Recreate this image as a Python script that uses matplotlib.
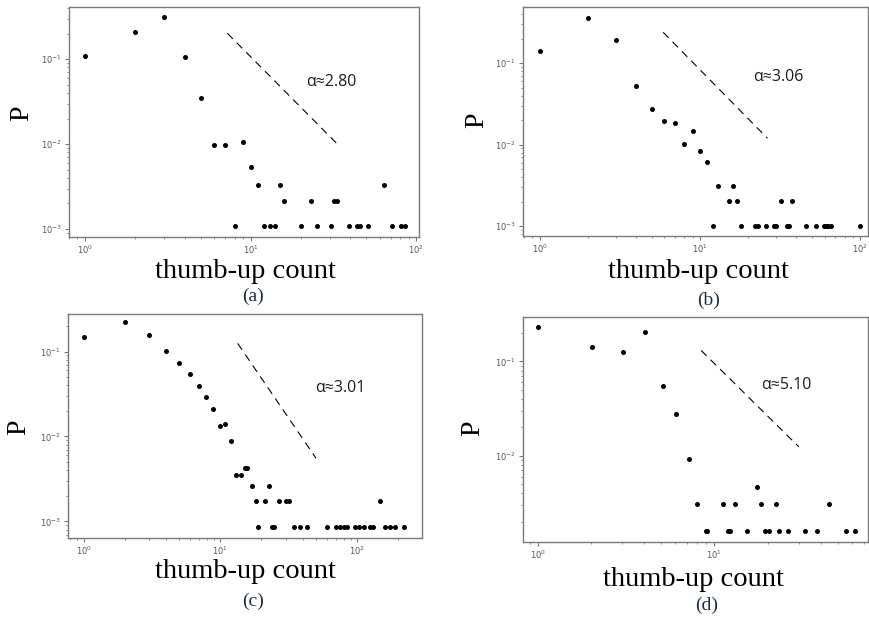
import matplotlib
matplotlib.use("Agg")
import matplotlib.pyplot as plt
from matplotlib.ticker import LogLocator, FixedLocator, NullFormatter

# ---------------- data ----------------
a_x = [1, 2, 3, 4, 5, 6, 7, 9, 10, 11, 15, 16, 23, 32, 33.4, 64,
       8, 12, 13, 14, 20, 25, 30.4, 39.4, 44, 45.5, 51, 71.6, 80.4, 85]
a_y = [0.110, 0.208, 0.310, 0.107, 0.0347, 0.0098, 0.0098, 0.0107, 0.00543, 0.0033, 0.0033,
       0.00216, 0.00216, 0.00216, 0.00216, 0.0033,
       0.0011, 0.0011, 0.0011, 0.0011, 0.0011, 0.0011, 0.0011, 0.0011, 0.0011, 0.0011,
       0.0011, 0.0011, 0.0011, 0.0011]
a_fit_x = [7.23, 33.4]
a_fit_y = [0.202, 0.0100]

b_x = [1, 2, 3, 4, 5, 6, 7, 9, 8, 10, 11, 13, 16.1, 15.1, 17, 32, 37.8,
       12, 18, 22, 23, 26, 29, 29.7, 35.2, 36.2, 46, 53, 59.6, 61.3, 63, 66, 99.5]
b_y = [0.142, 0.364, 0.195, 0.0526, 0.0275, 0.0197, 0.0186, 0.0147, 0.0103, 0.00835, 0.00618,
       0.00313, 0.00313, 0.00205, 0.00205, 0.00205, 0.00205,
       0.001, 0.001, 0.001, 0.001, 0.001, 0.001, 0.001, 0.001, 0.001, 0.001, 0.001, 0.001,
       0.001, 0.001, 0.001, 0.001]
b_fit_x = [5.90, 26.4]
b_fit_y = [0.240, 0.0120]

c_x = [1, 2, 3, 4, 5, 6, 7, 7.9, 8.9, 9.9, 10.9, 12, 13.1, 14.2, 15.1, 15.8, 17.1, 22.9,
       18.1, 21.1, 27, 30, 31.6, 148,
       18.9, 23.9, 24.8, 34.4, 38.5, 43.1, 60.3, 70.6, 74.7, 79.9, 84.5, 97, 103, 112,
       125, 131, 161, 175, 191, 219]
c_y = [0.150, 0.225, 0.157, 0.102, 0.0736, 0.0545, 0.0394, 0.0293, 0.0208, 0.01325, 0.01397,
       0.00873, 0.00354, 0.00354, 0.00428, 0.00428, 0.00261, 0.00261,
       0.00175, 0.00175, 0.00175, 0.00175, 0.00175, 0.00175,
       0.000857, 0.000857, 0.000857, 0.000857, 0.000857, 0.000857, 0.000857, 0.000857,
       0.000857, 0.000857, 0.000857, 0.000857, 0.000857, 0.000857, 0.000857, 0.000857,
       0.000857, 0.000857, 0.000857, 0.000857]
c_fit_x = [13.4, 50.1]
c_fit_y = [0.125, 0.00556]

d_x = [1, 2.03, 3.03, 4.05, 5.12, 6.04, 7.16, 8.01, 11.15, 13.1, 17.4, 18.4, 22.4, 44.4,
       8.97, 9.13, 12.0, 12.3, 15.2, 19.4, 20.3, 23.2, 26.1, 32.7, 38.1, 55.9, 62.8]
d_y = [0.232, 0.142, 0.127, 0.205, 0.0555, 0.0275, 0.00922, 0.00311, 0.00311, 0.00311,
       0.00468, 0.00311, 0.00311, 0.00311,
       0.00158, 0.00158, 0.00158, 0.00158, 0.00158, 0.00158, 0.00158, 0.00158, 0.00158,
       0.00158, 0.00158, 0.00158, 0.00158]
d_fit_x = [8.41, 30.0]
d_fit_y = [0.131, 0.01247]

alpha_labels = ["α≈2.80", "α≈3.06", "α≈3.01", "α≈5.10"]
panel_labels = ["(a)", "(b)", "(c)", "(d)"]
x_label = "thumb-up count"
y_label = "P"
a_yticks = [1e-1, 1e-2, 1e-3]
b_yticks = [1e-1, 1e-2, 1e-3]
c_yticks = [1e-1, 1e-2, 1e-3]
d_yticks = [1e-1, 1e-2]
ytick_text = {1e-1: r"$10^{-1}$", 1e-2: r"$10^{-2}$", 1e-3: r"$10^{-3}$"}
xtick_text = {1: r"$10^{0}$", 10: r"$10^{1}$", 100: r"$10^{2}$"}

# ---------------- layout ----------------
W, H = 870, 617
fig = plt.figure(figsize=(W / 100, H / 100), dpi=100)


def px_axes(left, top, right, bottom):
    return fig.add_axes([left / W, 1 - bottom / H, (right - left) / W, (bottom - top) / H])


def ftext(x, y, s, **kw):
    fig.text(x / W, 1 - y / H, s, **kw)


panels = [
    dict(box=(69, 7, 419, 237), x=a_x, y=a_y, fx=a_fit_x, fy=a_fit_y, yt=a_yticks,
         xlim=(0.80, 103.8), ylim=(10 ** -3.094, 10 ** -0.385), xt=[1, 10, 100],
         alpha_pos=(331, 82), P=(22, 113), xl=(245, 272), pl=(253, 296)),
    dict(box=(523, 7, 868, 236), x=b_x, y=b_y, fx=b_fit_x, fy=b_fit_y, yt=b_yticks,
         xlim=(0.787, 112), ylim=(10 ** -3.12, 10 ** -0.309), xt=[1, 10, 100],
         alpha_pos=(778, 77), P=(477, 120), xl=(698, 271), pl=(709, 300)),
    dict(box=(68, 314, 422, 538), x=c_x, y=c_y, fx=c_fit_x, fy=c_fit_y, yt=c_yticks,
         xlim=(0.769, 299), ylim=(10 ** -3.196, 10 ** -0.557), xt=[1, 10, 100],
         alpha_pos=(340, 388), P=(19, 427), xl=(245, 572), pl=(253, 601)),
    dict(box=(523, 317, 868, 542), x=d_x, y=d_y, fx=d_fit_x, fy=d_fit_y, yt=d_yticks,
         xlim=(0.826, 74), ylim=(10 ** -2.915, 10 ** -0.528), xt=[1, 10],
         alpha_pos=(786, 385), P=(473, 428), xl=(693, 579), pl=(707, 605)),
]

serif = ["Liberation Serif", "DejaVu Serif"]
sans = ["Open Sans", "DejaVu Sans"]

for i, p in enumerate(panels):
    ax = px_axes(*p["box"])
    ax.set_xscale("log")
    ax.set_yscale("log")
    ax.plot(p["x"], p["y"], linestyle="none", marker="o", ms=3.6, color="black",
            markeredgewidth=0)
    ax.plot(p["fx"], p["fy"], color="black", lw=0.8, dashes=(7, 5))
    ax.set_xlim(*p["xlim"])
    ax.set_ylim(*p["ylim"])
    ax.xaxis.set_major_locator(FixedLocator(p["xt"]))
    ax.set_xticklabels([xtick_text[v] for v in p["xt"]])
    ax.yaxis.set_major_locator(FixedLocator(p["yt"]))
    ax.set_yticklabels([ytick_text[v] for v in p["yt"]])
    ax.xaxis.set_minor_locator(LogLocator(base=10, subs=range(2, 10), numticks=20))
    ax.yaxis.set_minor_locator(LogLocator(base=10, subs=range(2, 10), numticks=20))
    ax.xaxis.set_minor_formatter(NullFormatter())
    ax.yaxis.set_minor_formatter(NullFormatter())
    ax.tick_params(which="major", direction="out", length=3, width=0.8, color="#777777",
                   labelsize=6, labelcolor="#555555", pad=2)
    ax.tick_params(which="minor", direction="out", length=1.6, width=0.6, color="#777777")
    for s in ax.spines.values():
        s.set_color("#7a7a7a")
        s.set_linewidth(1.0)
    ax.set_facecolor("white")

    ax_x, ax_y = p["alpha_pos"]
    ftext(ax_x, ax_y, alpha_labels[i], fontsize=11.5, family=sans, color="#1c1c2a",
          ha="center", va="center")
    ftext(p["P"][0], p["P"][1], y_label, fontsize=20, family=serif, rotation=90,
          ha="center", va="center", color="black")
    ftext(p["xl"][0], p["xl"][1], x_label, fontsize=20.5, family=serif,
          ha="center", va="center", color="black")
    ftext(p["pl"][0], p["pl"][1], panel_labels[i], fontsize=14, family=serif,
          ha="center", va="center", color="#1f2d4a")

fig.savefig("out.png", dpi=100, facecolor="white")
